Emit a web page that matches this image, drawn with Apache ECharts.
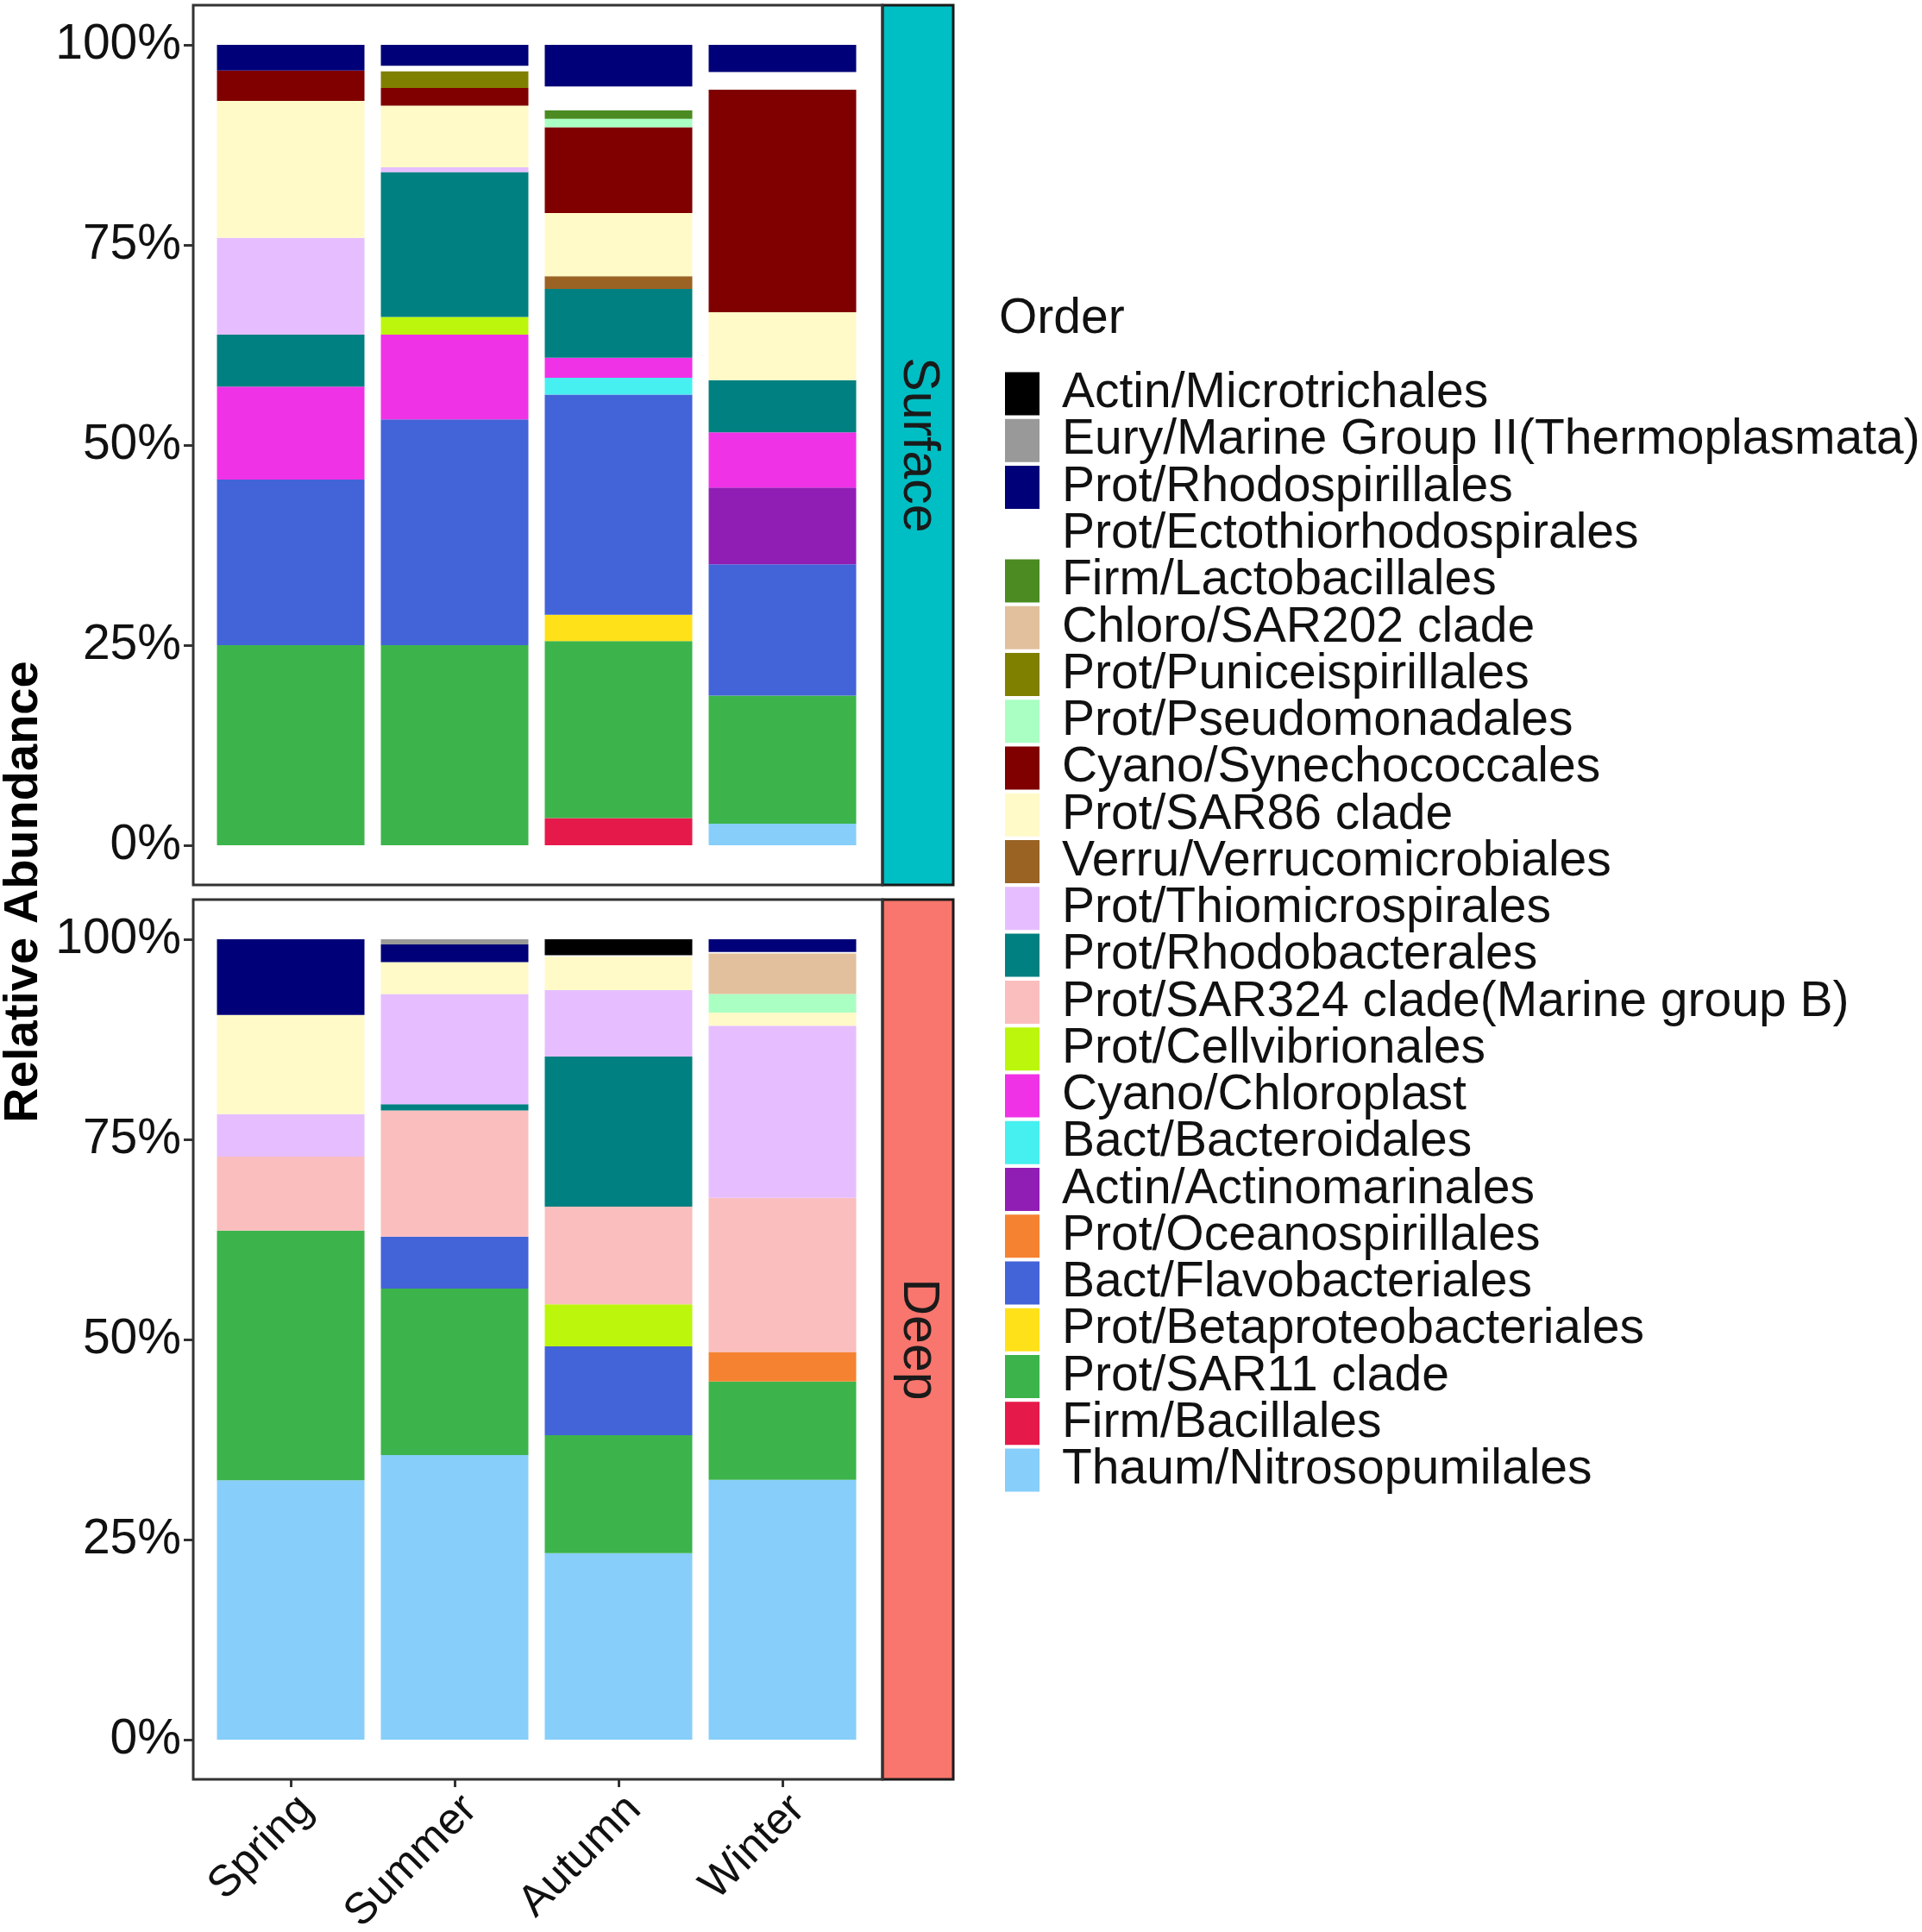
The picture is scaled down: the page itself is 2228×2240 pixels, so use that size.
<!DOCTYPE html>
<html>
<head>
<meta charset="utf-8">
<script src="https://cdn.jsdelivr.net/npm/echarts@6/dist/echarts.min.js"></script>
<style>
html,body{margin:0;padding:0;background:#fff;}
#chart{width:2228px;height:2240px;}
</style>
</head>
<body>
<div id="chart"></div>
<script>
// ---------- data ----------
const seasons = ['Spring', 'Summer', 'Autumn', 'Winter'];
const panels = ['Surface', 'Deep'];
const yTicks = [0, 25, 50, 75, 100];

// legend order (top to bottom); stacking is bottom = last
const orders = [
  'Actin/Microtrichales',
  'Eury/Marine Group II(Thermoplasmata)',
  'Prot/Rhodospirillales',
  'Prot/Ectothiorhodospirales',
  'Firm/Lactobacillales',
  'Chloro/SAR202 clade',
  'Prot/Puniceispirillales',
  'Prot/Pseudomonadales',
  'Cyano/Synechococcales',
  'Prot/SAR86 clade',
  'Verru/Verrucomicrobiales',
  'Prot/Thiomicrospirales',
  'Prot/Rhodobacterales',
  'Prot/SAR324 clade(Marine group B)',
  'Prot/Cellvibrionales',
  'Cyano/Chloroplast',
  'Bact/Bacteroidales',
  'Actin/Actinomarinales',
  'Prot/Oceanospirillales',
  'Bact/Flavobacteriales',
  'Prot/Betaproteobacteriales',
  'Prot/SAR11 clade',
  'Firm/Bacillales',
  'Thaum/Nitrosopumilales'
];
const colors = [
  '#000000', '#999999', '#000078', '#FFFFFF', '#4B8B22', '#E2C09D',
  '#808000', '#AAFFC3', '#800000', '#FFFAC8', '#9A6324', '#E6BEFF',
  '#008080', '#FABEBE', '#BCF60C', '#F032E6', '#46F0F0', '#911EB4',
  '#F58231', '#4363D8', '#FFE119', '#3CB44B', '#E6194B', '#87CEFA'
];

// relative abundance (%) per order, in legend order
const surfaceSpring = [0, 0, 3.2, 0, 0, 0, 0, 0, 3.8, 17.1, 0, 12.1, 6.5, 0, 0, 11.6, 0, 0, 0, 20.7, 0, 25.0, 0, 0];
const surfaceSummer = [0, 0, 2.6, 0.7, 0, 0, 2.1, 0, 2.2, 7.7, 0, 0.6, 18.1, 0, 2.2, 10.6, 0, 0, 0, 28.2, 0, 25.0, 0, 0];
const surfaceAutumn = [0, 0, 5.2, 3.0, 1.05, 0, 0, 1.05, 10.7, 7.9, 1.6, 0, 8.6, 0, 0, 2.5, 2.1, 0, 0, 27.5, 3.3, 22.1, 3.4, 0];
const surfaceWinter = [0, 0, 3.4, 2.2, 0, 0, 0, 0, 27.8, 8.5, 0, 0, 6.5, 0, 0, 6.9, 0, 9.6, 0, 16.4, 0, 16.0, 0, 2.7];

const deepSpring = [0, 0, 9.45, 0, 0, 0, 0, 0, 0, 12.4, 0, 5.3, 0, 9.25, 0, 0, 0, 0, 0, 0, 0, 31.2, 0, 32.4];
const deepSummer = [0, 0.65, 2.2, 0, 0, 0, 0, 0, 0, 4.0, 0, 13.75, 0.8, 15.75, 0, 0, 0, 0, 0, 6.5, 0, 20.8, 0, 35.55];
const deepAutumn = [2.0, 0, 0, 0.15, 0, 0, 0, 0, 0, 4.2, 0, 8.3, 18.75, 12.2, 5.25, 0, 0, 0, 0, 11.1, 0, 14.75, 0, 23.3];
const deepWinter = [0, 0, 1.6, 0.15, 0, 5.1, 0, 2.3, 0, 1.65, 0, 21.5, 0, 19.25, 0, 0, 0, 0, 3.7, 0, 0, 12.3, 0, 32.45];

const surfaceData = [surfaceSpring, surfaceSummer, surfaceAutumn, surfaceWinter];
const deepData = [deepSpring, deepSummer, deepAutumn, deepWinter];

// ---------- chart ----------
const FONT = '"Liberation Sans", Arial, Helvetica, sans-serif';
const chart = echarts.init(document.getElementById('chart'), null, {renderer: 'canvas'});

const series = [];
for (let i = orders.length - 1; i >= 0; i--) {
  series.push({
    name: orders[i], type: 'bar', stack: 'surface',
    xAxisIndex: 0, yAxisIndex: 0, barWidth: '90%',
    itemStyle: {color: colors[i]},
    data: seasons.map((s, j) => surfaceData[j][i])
  });
  series.push({
    name: orders[i], type: 'bar', stack: 'deep',
    xAxisIndex: 1, yAxisIndex: 1, barWidth: '90%',
    itemStyle: {color: colors[i]},
    data: seasons.map((s, j) => deepData[j][i])
  });
}

const yAxisCommon = {
  type: 'value', min: yTicks[0], max: yTicks[yTicks.length - 1], interval: 25,
  offset: 18,
  axisLine: {show: false, onZero: false},
  axisTick: {show: true, length: 11, lineStyle: {color: '#333333', width: 3}},
  splitLine: {show: false},
  axisLabel: {formatter: '{value}%', fontSize: 57, fontFamily: FONT, color: '#111111', margin: 14}
};

const option = {
  animation: false,
  backgroundColor: '#ffffff',
  grid: [
    {left: 242, width: 760, top: 52, height: 928, outerBoundsMode: 'none', containLabel: false},
    {left: 242, width: 760, top: 1089, height: 928, outerBoundsMode: 'none', containLabel: false}
  ],
  xAxis: [
    {type: 'category', gridIndex: 0, data: seasons, show: true,
     axisLine: {show: false, onZero: false}, axisTick: {show: false}, axisLabel: {show: false}},
    {type: 'category', gridIndex: 1, data: seasons, offset: 46, position: 'bottom',
     axisLine: {show: false, onZero: false},
     axisTick: {show: true, alignWithLabel: true, length: 9, lineStyle: {color: '#333333', width: 3}},
     axisLabel: {rotate: 45, fontSize: 51, fontFamily: FONT, color: '#111111', margin: 9,
                 align: 'right', verticalAlign: 'top', interval: 0}}
  ],
  yAxis: [
    Object.assign({gridIndex: 0}, yAxisCommon),
    Object.assign({gridIndex: 1}, yAxisCommon)
  ],
  legend: {
    orient: 'vertical', left: 1160, top: 423,
    itemWidth: 40, itemHeight: 50, itemGap: -2.74, icon: 'rect',
    selectedMode: false,
    textStyle: {fontSize: 57, fontFamily: FONT, color: '#111111', padding: [0, 0, 0, 21]},
    data: orders
  },
  graphic: [
    // panel borders
    {type: 'rect', shape: {x: 224, y: 6, width: 799, height: 1020}, z: 100,
     style: {fill: null, stroke: '#333333', lineWidth: 3}},
    {type: 'rect', shape: {x: 224, y: 1043, width: 799, height: 1020}, z: 100,
     style: {fill: null, stroke: '#333333', lineWidth: 3}},
    // strips
    {type: 'rect', shape: {x: 1023, y: 6, width: 82, height: 1020}, z: 99,
     style: {fill: '#00BFC4', stroke: '#1a1a1a', lineWidth: 3}},
    {type: 'rect', shape: {x: 1023, y: 1043, width: 82, height: 1020}, z: 99,
     style: {fill: '#F8766D', stroke: '#1a1a1a', lineWidth: 3}},
    {type: 'text', x: 1064, y: 516, rotation: -Math.PI / 2, z: 101,
     style: {text: panels[0], fontSize: 59, fontFamily: FONT, fill: '#1a1a1a', align: 'center', verticalAlign: 'middle'}},
    {type: 'text', x: 1064, y: 1553, rotation: -Math.PI / 2, z: 101,
     style: {text: panels[1], fontSize: 59, fontFamily: FONT, fill: '#1a1a1a', align: 'center', verticalAlign: 'middle'}},
    // y-axis title
    {type: 'text', x: 28, y: 1034, rotation: Math.PI / 2, z: 101,
     style: {text: 'Relative Abundance', fontSize: 56, fontWeight: 'bold', fontFamily: FONT, fill: '#000000',
             align: 'center', verticalAlign: 'middle'}},
    // legend title
    {type: 'text', x: 1158, y: 370, z: 101,
     style: {text: 'Order', fontSize: 57, fontFamily: FONT, fill: '#111111', align: 'left', verticalAlign: 'middle'}}
  ],
  series: series
};
chart.setOption(option);
</script>
</body>
</html>
